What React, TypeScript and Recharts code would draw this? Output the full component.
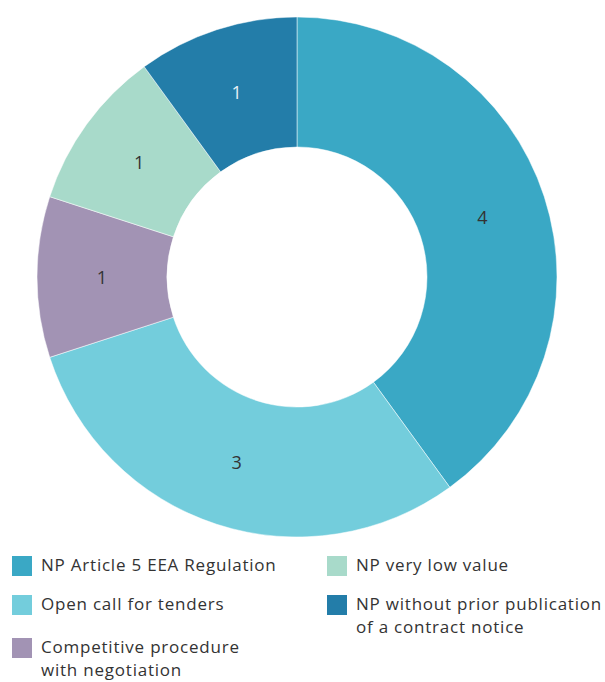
import React from 'react';
import { PieChart, Pie, Cell, Legend } from 'recharts';

const categories = [
  'NP Article 5 EEA Regulation',
  'Open call for tenders',
  'Competitive procedure with negotiation',
  'NP very low value',
  'NP without prior publication of a contract notice',
];
const counts = [4, 3, 1, 1, 1];
const colors = ['#3AA8C5', '#73CDDC', '#A293B4', '#A8DACA', '#237DA9'];
const labelColors = ['#333333', '#333333', '#333333', '#333333', '#E8F1F6'];

// legend reads column by column
const legendColumns = [
  [0, 1, 2],
  [3, 4],
];
const legendLines: Record<number, string[]> = {
  2: ['Competitive procedure', 'with negotiation'],
  4: ['NP without prior publication', 'of a contract notice'],
};

const RAD = Math.PI / 180;
const FONT = "'Open Sans', 'Noto Sans', sans-serif";

const renderLabel = (props: any) => {
  const { cx, cy, midAngle, innerRadius, outerRadius, value, index } = props;
  const r = (innerRadius + outerRadius) / 2;
  const x = cx + r * Math.cos(-midAngle * RAD);
  const y = cy + r * Math.sin(-midAngle * RAD);
  return (
    <text
      x={x}
      y={y}
      fill={labelColors[index]}
      textAnchor="middle"
      dominantBaseline="central"
      fontSize={18}
      fontFamily={FONT}
    >
      {value}
    </text>
  );
};

const LegendContent = () => (
  <div
    style={{
      display: 'flex',
      fontFamily: FONT,
      fontSize: 17,
      letterSpacing: 0.78,
      color: '#333',
      lineHeight: '23px',
    }}
  >
    {legendColumns.map((col, ci) => (
      <div
        key={ci}
        style={{ boxSizing: 'border-box', width: ci === 0 ? 327 : 278, paddingLeft: ci === 0 ? 12 : 0 }}
      >
        {col.map((idx, ri) => (
          <div key={idx} style={{ display: 'flex', height: ri === 0 ? 39 : 43 }}>
            <span
              style={{
                width: 20,
                height: 20,
                marginTop: 1,
                background: colors[idx],
                flex: 'none',
                marginRight: 9,
              }}
            />
            <span style={{ marginTop: -2, whiteSpace: 'nowrap' }}>
              {(legendLines[idx] || [categories[idx]]).map((l, li) => (
                <div key={li}>{l}</div>
              ))}
            </span>
          </div>
        ))}
      </div>
    ))}
  </div>
);

const App: React.FC = () => {
  const data = categories.map((name, i) => ({ name, value: counts[i] }));
  return (
    <div style={{ position: 'absolute', left: 0, top: 0, width: 605, height: 682, background: '#fff' }}>
      <PieChart width={605} height={682} margin={{ top: 0, right: 0, bottom: 0, left: 0 }}>
        <Pie
          data={data}
          dataKey="value"
          nameKey="name"
          cx={297}
          cy={277}
          innerRadius={130}
          outerRadius={260}
          startAngle={90}
          endAngle={-270}
          stroke="#fff"
          strokeWidth={0.5}
          label={renderLabel}
          labelLine={false}
          isAnimationActive={false}
        >
          {data.map((entry, index) => (
            <Cell key={`cell-${index}`} fill={colors[index]} />
          ))}
        </Pie>
        <Legend
          content={<LegendContent />}
          wrapperStyle={{ position: 'absolute', left: 0, top: 555, width: 605 }}
        />
      </PieChart>
    </div>
  );
};

export default App;
